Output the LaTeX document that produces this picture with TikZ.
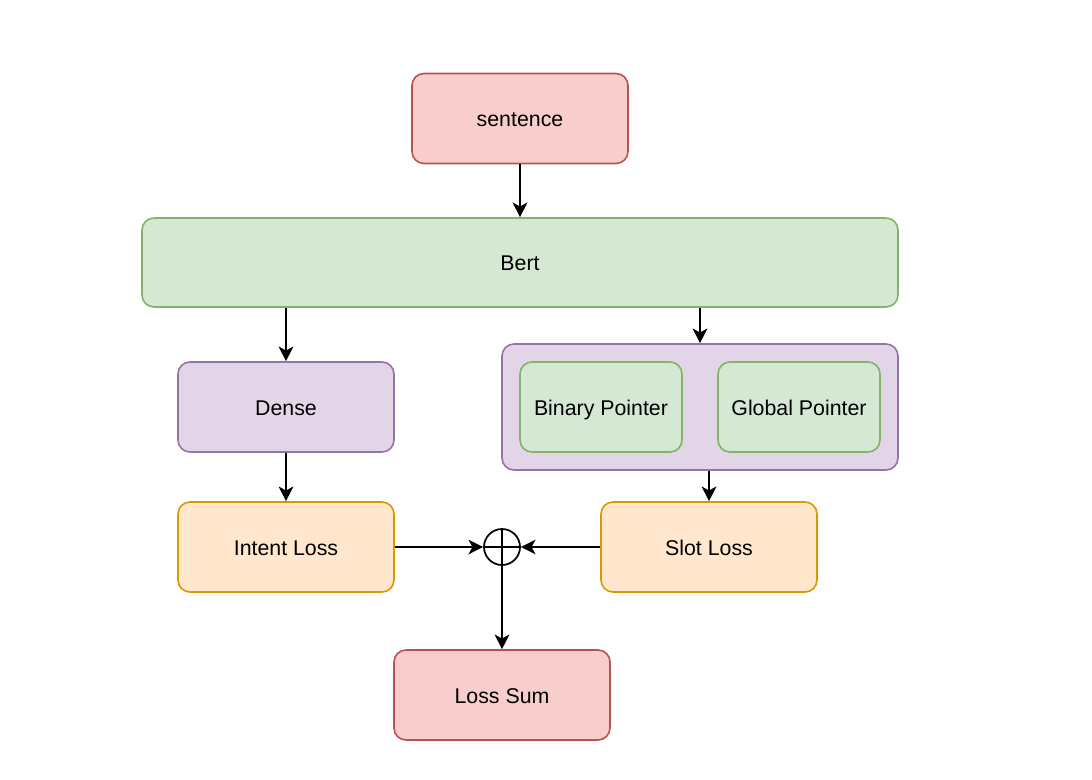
\documentclass[tikz,border=0pt]{standalone}
\usepackage{fontspec}
\setmainfont{Liberation Sans}
\usetikzlibrary{arrows.meta}
\definecolor{redfill}{HTML}{F8CECC}
\definecolor{reddraw}{HTML}{B85450}
\definecolor{greenfill}{HTML}{D5E8D4}
\definecolor{greendraw}{HTML}{82B366}
\definecolor{purplefill}{HTML}{E1D5E7}
\definecolor{purpledraw}{HTML}{9673A6}
\definecolor{orangefill}{HTML}{FFE6CC}
\definecolor{orangedraw}{HTML}{D79B00}
\tikzset{
  box/.style={draw,rounded corners=9pt,line width=1.2pt,minimum width=162pt,minimum height=67.5pt,
    text height=13.5pt,text depth=1.5pt,font=\fontsize{16}{19}\selectfont},
  redbox/.style={box,fill=redfill,draw=reddraw},
  greenbox/.style={box,fill=greenfill,draw=greendraw},
  purplebox/.style={box,fill=purplefill,draw=purpledraw},
  orangebox/.style={box,fill=orangefill,draw=orangedraw},
  flow/.style={line width=1.3pt,-{Stealth[length=11pt,width=11pt,inset=3pt]}}
}
\begin{document}
\begin{tikzpicture}[x=0.75pt,y=-0.75pt]
\useasboundingbox (0,0) rectangle (1092,779);
\draw
    (520,118.5) node [redbox] (sentence) {sentence}
    (520,262.5) node [greenbox,minimum width=567pt,minimum height=66.75pt] (bert) {Bert}
    (286,407) node [purplebox] (dense) {Dense}
    (700,407) node [purplebox,minimum width=297pt,minimum height=94.5pt] (pointers) {}
    (601,407) node [greenbox,minimum width=121.5pt] (binary) {Binary Pointer}
    (799,407) node [greenbox,minimum width=121.5pt] (global) {Global Pointer}
    (286,547) node [orangebox] (intent) {Intent Loss}
    (709,547) node [orangebox] (slot) {Slot Loss}
    (502,695) node [redbox] (losssum) {Loss Sum};
\node [draw,circle,line width=1.3pt,minimum size=27pt,inner sep=0pt] (plus) at (502,547) {};
\draw [line width=1.3pt] (plus.north) -- (plus.south) (plus.west) -- (plus.east);
\draw [flow] (sentence.south) -- (bert.north);
\draw [flow] (dense.north |- bert.south) -- (dense.north);
\draw [flow] (pointers.north |- bert.south) -- (pointers.north);
\draw [flow] (dense.south) -- (intent.north);
\draw [flow] (slot.north |- pointers.south) -- (slot.north);
\draw [flow] (intent.east) -- (plus.west);
\draw [flow] (slot.west) -- (plus.east);
\draw [flow] (plus.south) -- (losssum.north);
\end{tikzpicture}
\end{document}
